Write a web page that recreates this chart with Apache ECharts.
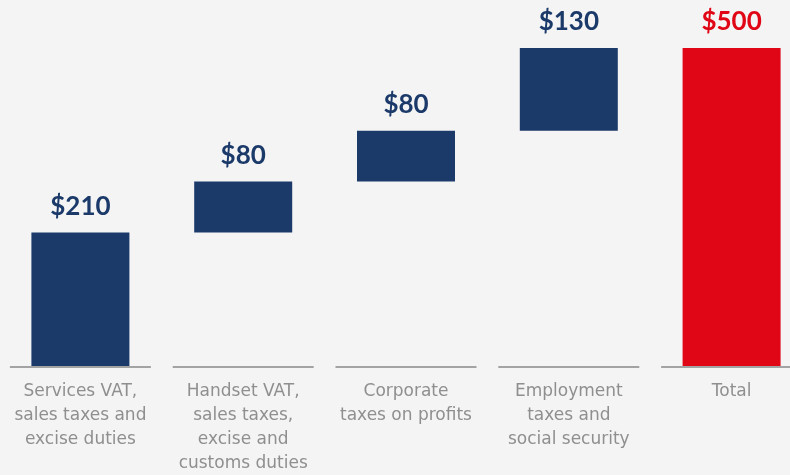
<!DOCTYPE html>
<html>
<head>
<meta charset="utf-8">
<script src="https://cdn.jsdelivr.net/npm/echarts@6/dist/echarts.min.js"></script>
<style>
  html, body { margin: 0; padding: 0; background: #f4f4f4; }
  #chart { width: 790px; height: 475px; }
</style>
</head>
<body>
<div id="chart"></div>
<script>
// Tax contribution breakdown (waterfall), US$ billions
const categories = [
  'Services VAT,\nsales taxes and\nexcise duties',
  'Handset VAT,\nsales taxes,\nexcise and\ncustoms duties',
  'Corporate\ntaxes on profits',
  'Employment\ntaxes and\nsocial security',
  'Total'
];
const amounts = [210, 80, 80, 130];
const total = 500;

const NAVY = '#1b3a6a';
const RED = '#e00615';

// invisible offsets so each step starts where the previous one ended
const offsets = [];
let running = 0;
amounts.forEach(v => { offsets.push(running); running += v; });
offsets.push(0);
const visible = amounts.concat([total]);

const chart = echarts.init(document.getElementById('chart'));
chart.setOption({
  backgroundColor: '#f4f4f4',
  animation: false,
  grid: { left: -1, width: 814, top: 48, bottom: 109, outerBoundsMode: 'none', containLabel: false },
  xAxis: {
    type: 'category',
    data: categories,
    axisLine: { show: false },
    axisTick: { show: false },
    axisLabel: {
      interval: 0,
      margin: 14,
      color: '#8f8f8f',
      fontFamily: 'DejaVu Sans',
      fontSize: 17,
      lineHeight: 24
    }
  },
  yAxis: { type: 'value', min: 0, max: 500, show: false },
  series: [
    {
      type: 'bar',
      stack: 'w',
      data: offsets,
      barWidth: 98,
      itemStyle: { color: 'transparent' },
      silent: true
    },
    {
      type: 'bar',
      stack: 'w',
      barWidth: 98,
      data: visible.map((v, i) => ({
        value: v,
        itemStyle: { color: i === visible.length - 1 ? RED : NAVY },
        label: { color: i === visible.length - 1 ? RED : NAVY }
      })),
      label: {
        show: true,
        position: 'top',
        distance: 13,
        formatter: p => '$' + p.value,
        fontFamily: 'Lato',
        fontWeight: 'bold',
        fontSize: 26
      },
      z: 3
    },
    {
      // baseline segment under each category
      type: 'custom',
      data: categories.map((c, i) => [i, 0]),
      renderItem: (params, api) => {
        const p = api.coord([api.value(0), 0]);
        const half = api.size([1, 0])[0] * 0.433;
        return {
          type: 'line',
          shape: { x1: p[0] - half, y1: p[1] + 1, x2: p[0] + half, y2: p[1] + 1 },
          style: { stroke: '#a3a3a3', lineWidth: 2 }
        };
      },
      z: 1,
      silent: true
    }
  ]
});
</script>
</body>
</html>
